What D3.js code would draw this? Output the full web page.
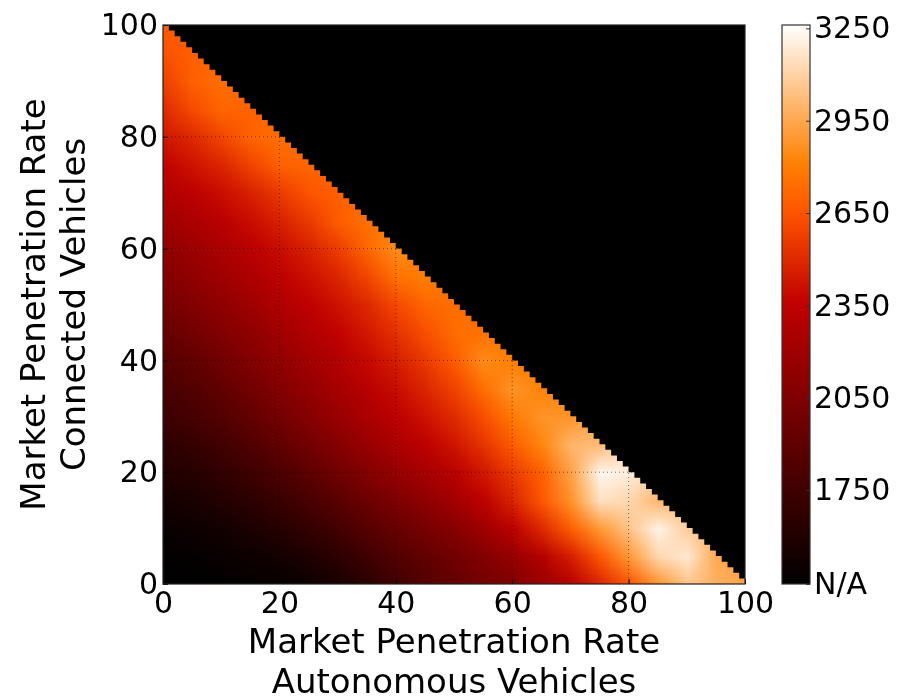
<!DOCTYPE html>
<html><head><meta charset="utf-8">
<script src="https://cdn.jsdelivr.net/npm/d3@7"></script>
<style>
html,body{margin:0;padding:0;background:#fff;}
#wrap{position:relative;width:911px;height:700px;}
#wrap canvas,#wrap svg{position:absolute;left:0;top:0;}
text{font-family:"DejaVu Sans",sans-serif;fill:#000;}
</style></head><body><div id="wrap"></div>
<script>
// Market penetration grid, percent (5 % steps)
const avLevels = d3.range(0, 101, 5);   // autonomous vehicles (x)
const cvLevels = d3.range(0, 101, 5);   // connected vehicles (y)

// Capacity values, one row per connected-vehicle level, columns by AV level (AV + CV <= 100)
const cv0   = [1450,1450,1460,1470,1480,1510,1570,1650,1760,1850,1920,1990,2060,2170,2310,2480,2650,2880,3050,2980,2930];
const cv5   = [1460,1470,1490,1510,1540,1590,1660,1750,1840,1910,1980,2060,2160,2300,2460,2660,2900,3120,3180,2950];
const cv10  = [1490,1510,1540,1580,1630,1690,1770,1860,1940,2010,2090,2200,2340,2500,2690,2900,3050,3220,3080];
const cv15  = [1540,1570,1610,1660,1720,1790,1870,1960,2050,2130,2220,2340,2480,2660,2880,3150,3120,3000];
const cv20  = [1600,1630,1680,1740,1810,1890,1980,2070,2160,2240,2330,2440,2560,2700,2930,3230,3200];
const cv25  = [1660,1700,1760,1830,1910,1990,2080,2170,2260,2340,2430,2540,2680,2830,3000,3020];
const cv30  = [1730,1780,1840,1920,2000,2080,2170,2260,2340,2420,2510,2630,2790,2880,2880];
const cv35  = [1790,1840,1910,1990,2070,2150,2240,2320,2400,2490,2590,2750,2880,2820];
const cv40  = [1860,1910,1980,2060,2140,2220,2300,2380,2460,2560,2680,2850,2800];
const cv45  = [1930,1990,2060,2130,2210,2290,2360,2440,2530,2630,2740,2760];
const cv50  = [2000,2060,2130,2200,2280,2350,2420,2500,2610,2720,2740];
const cv55  = [2070,2130,2200,2270,2340,2410,2490,2600,2760,2800];
const cv60  = [2130,2190,2260,2330,2400,2470,2570,2720,2850];
const cv65  = [2200,2260,2330,2400,2470,2560,2680,2760];
const cv70  = [2280,2340,2400,2470,2560,2650,2700];
const cv75  = [2360,2420,2490,2590,2700,2720];
const cv80  = [2430,2500,2600,2710,2750];
const cv85  = [2510,2620,2720,2700];
const cv90  = [2580,2700,2740];
const cv95  = [2640,2690];
const cv100 = [2680];
const capacityRows = [cv0,cv5,cv10,cv15,cv20,cv25,cv30,cv35,cv40,cv45,cv50,cv55,cv60,cv65,cv70,cv75,cv80,cv85,cv90,cv95,cv100];

const axisTicks = [0, 20, 40, 60, 80, 100];
const colorTicks = [1445, 1750, 2050, 2350, 2650, 2950, 3250];
const colorTickLabels = ["N/A", "1750", "2050", "2350", "2650", "2950", "3250"];
const colorDomain = [1445, 3261];

const W = 911, H = 700;
const plot = {left: 163, right: 745, top: 25, bottom: 584};
const bar = {left: 782, right: 810, top: 25, bottom: 584};

const x = d3.scaleLinear().domain([0, 100]).range([plot.left, plot.right]);
const y = d3.scaleLinear().domain([0, 100]).range([plot.bottom, plot.top]);

// gist_heat colormap
function gistHeat(t) {
  const c = v => Math.max(0, Math.min(1, v));
  return d3.rgb(255 * c(1.5 * t), 255 * c(2 * t - 1), 255 * c(4 * t - 3)).toString();
}
const color = d3.scaleSequential(gistHeat).domain(colorDomain).clamp(true);

const wrap = d3.select("#wrap");
const canvas = wrap.append("canvas").attr("width", W).attr("height", H).node();
const ctx = canvas.getContext("2d");

// Heat field: one source pixel per grid node, upscaled with smoothing
const n = avLevels.length;
const src = document.createElement("canvas");
src.width = n; src.height = n;
const sctx = src.getContext("2d");
for (let j = 0; j < n; j++) {
  for (let i = 0; i < n; i++) {
    let v;
    if (i < capacityRows[j].length) v = capacityRows[j][i];
    else {
      // outside the triangle: clamp to the nearest edge nodes (masked below)
      const a = capacityRows[j][capacityRows[j].length - 1];
      const b = capacityRows[n - 1 - i] ? capacityRows[n - 1 - i][i] : a;
      v = (a + b) / 2;
    }
    sctx.fillStyle = color(v);
    sctx.fillRect(i, n - 1 - j, 1, 1);
  }
}
ctx.save();
ctx.beginPath();
ctx.rect(plot.left, plot.top, plot.right - plot.left, plot.bottom - plot.top);
ctx.clip();
ctx.imageSmoothingEnabled = true;
ctx.imageSmoothingQuality = "low";
const half = 2.5;
ctx.drawImage(src, x(-half), y(100 + half), x(100 + half) - x(-half), y(-half) - y(100 + half));
ctx.restore();

const svg = wrap.append("svg").attr("width", W).attr("height", H);

// Infeasible region (AV + CV > 100) in 1 % steps
const stair = [];
for (let k = 0; k < 100; k++) { stair.push([k, 100 - k]); stair.push([k + 1, 100 - k]); }
stair.push([100, 0]); stair.push([100, 100]);
svg.append("path")
  .attr("d", d3.line().x(d => x(d[0])).y(d => y(d[1]))(stair) + "Z")
  .attr("fill", "#000");

// Dotted grid
const grid = svg.append("g").attr("stroke", "#000").attr("stroke-opacity", 0.55)
  .attr("stroke-width", 1).attr("stroke-dasharray", "1,3");
[20, 40, 60, 80].forEach(v => {
  grid.append("line").attr("x1", x(v)).attr("x2", x(v)).attr("y1", plot.top).attr("y2", plot.bottom);
  grid.append("line").attr("x1", plot.left).attr("x2", plot.right).attr("y1", y(v)).attr("y2", y(v));
});

// Axes
const fsTick = 30;
const gx = svg.append("g").attr("transform", `translate(0,${plot.bottom})`)
  .call(d3.axisBottom(x).tickValues(axisTicks).tickFormat(d3.format("d"))
    .tickSizeInner(-5).tickSizeOuter(0).tickPadding(8));
const gy = svg.append("g").attr("transform", `translate(${plot.left},0)`)
  .call(d3.axisLeft(y).tickValues(axisTicks).tickFormat(d3.format("d"))
    .tickSizeInner(-5).tickSizeOuter(0).tickPadding(5));
[gx, gy].forEach(g => {
  g.select(".domain").remove();
  g.selectAll("line").attr("stroke", "#000");
  g.selectAll("text").attr("font-size", fsTick).attr("font-family", "DejaVu Sans");
});
svg.append("rect").attr("x", plot.left).attr("y", plot.top)
  .attr("width", plot.right - plot.left).attr("height", plot.bottom - plot.top)
  .attr("fill", "none").attr("stroke", "#222").attr("stroke-width", 1.2);

// Axis titles
const fsLabel = 34;
const xc = (plot.left + plot.right) / 2;
const xt = svg.append("text").attr("text-anchor", "middle").attr("font-size", fsLabel);
xt.append("tspan").attr("x", xc).attr("y", 653).text("Market Penetration Rate");
xt.append("tspan").attr("x", xc).attr("y", 693).text("Autonomous Vehicles");
const cy = (plot.top + plot.bottom) / 2;
const yt = svg.append("text").attr("text-anchor", "middle").attr("font-size", fsLabel)
  .attr("transform", `translate(0,${cy}) rotate(-90)`);
yt.append("tspan").attr("x", 0).attr("y", 45).text("Market Penetration Rate");
yt.append("tspan").attr("x", 0).attr("y", 85).text("Connected Vehicles");

// Colorbar
const cb = d3.scaleLinear().domain(colorDomain).range([bar.bottom, bar.top]);
const defs = svg.append("defs");
const grad = defs.append("linearGradient").attr("id", "cbar")
  .attr("x1", 0).attr("y1", 1).attr("x2", 0).attr("y2", 0);
d3.range(0, 1.0001, 0.02).forEach(t => {
  grad.append("stop").attr("offset", t)
    .attr("stop-color", color(colorDomain[0] + t * (colorDomain[1] - colorDomain[0])));
});
svg.append("rect").attr("x", bar.left).attr("y", bar.top)
  .attr("width", bar.right - bar.left).attr("height", bar.bottom - bar.top)
  .attr("fill", "url(#cbar)").attr("stroke", "#333").attr("stroke-width", 1.2);
const cbAxis = svg.append("g").attr("transform", `translate(${bar.right},0)`)
  .call(d3.axisRight(cb).tickValues(colorTicks).tickFormat((d, i) => colorTickLabels[i])
    .tickSizeInner(-4).tickSizeOuter(0).tickPadding(4));
cbAxis.select(".domain").remove();
cbAxis.selectAll("line").attr("stroke", "#333");
cbAxis.selectAll("text").attr("font-size", fsTick).attr("font-family", "DejaVu Sans");
</script></body></html>
